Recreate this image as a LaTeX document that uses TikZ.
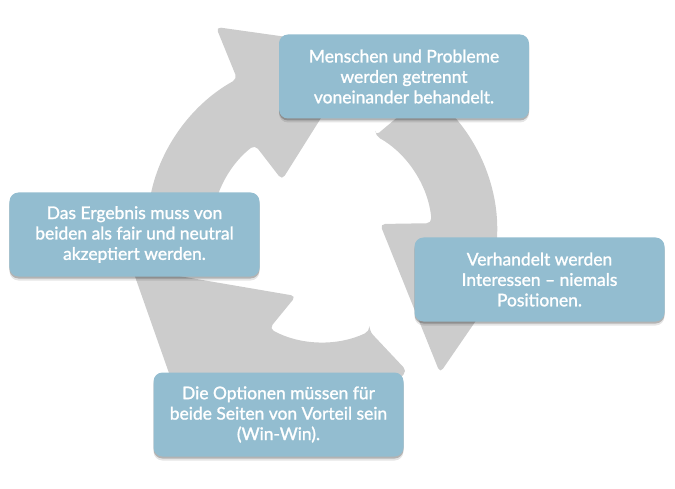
\documentclass[tikz,border=0pt]{standalone}
\usepackage{fontspec}
\setmainfont{Lato}[FakeBold=1.4,AutoFakeBold=1.4]
\definecolor{arrowgray}{HTML}{CCCCCC}
\definecolor{boxblue}{HTML}{93BDD0}
\tikzset{
  infobox/.style={rounded corners=9bp, fill=boxblue, minimum width=250bp, minimum height=84bp,
    text=white, align=center, inner sep=0pt, font=\fontsize{17.5}{20.5}\selectfont\bfseries,
    preaction={draw=none, fill=black, fill opacity=0.10, transform canvas={yshift=-4bp}},
    preaction={draw=none, fill=black, fill opacity=0.22, transform canvas={yshift=-2bp}}},
  cyclearrow/.style={fill=arrowgray, rounded corners=5bp}
}
\begin{document}
\begin{tikzpicture}[x=1bp,y=-1bp]
\useasboundingbox (0,0) rectangle (675,489);
\coordinate (C) at (322,232);
% arrow 1 (left, pointing to the top)
\fill[cyclearrow] ([shift={(179:110)}]C) -- ([shift={(187:175)}]C)
  arc[start angle=187, end angle=241, radius=175]
  -- (216,27) -- (365,48) -- (282,180) -- ([shift={(232.4:110)}]C)
  arc[start angle=232.4, end angle=179, radius=110] -- cycle;
% arrow 2 (right, pointing down)
\fill[cyclearrow] ([shift={(299:110)}]C) -- ([shift={(307:175)}]C)
  arc[start angle=307, end angle=364, radius=175]
  -- (530,242) -- (440,373) -- (380,224) -- ([shift={(355.4:110)}]C)
  arc[start angle=355.4, end angle=299, radius=110] -- cycle;
% arrow 3 (bottom, pointing to the left)
\fill[cyclearrow] ([shift={(64.4:110)}]C) -- (407,371) -- ([shift={(70:175)}]C)
  arc[start angle=70, end angle=124, radius=175]
  -- (182,410) -- (132,268) -- (296,296) -- ([shift={(118.6:110)}]C)
  arc[start angle=118.6, end angle=64.4, radius=110] -- cycle;
% boxes
\node[infobox] (b1) at (404,76.5) {Menschen und Probleme\\werden getrennt\\voneinander behandelt.};
\node[infobox] (b2) at (539.5,279.5) {Verhandelt werden\\Interessen – niemals\\Positionen.};
\node[infobox] (b3) at (278.5,414.5) {Die Optionen müssen für\\beide Seiten von Vorteil sein\\(Win-Win).};
\node[infobox] (b4) at (134.5,234.5) {Das Ergebnis muss von\\beiden als fair und neutral\\akzeptiert werden.};
\end{tikzpicture}
\end{document}
